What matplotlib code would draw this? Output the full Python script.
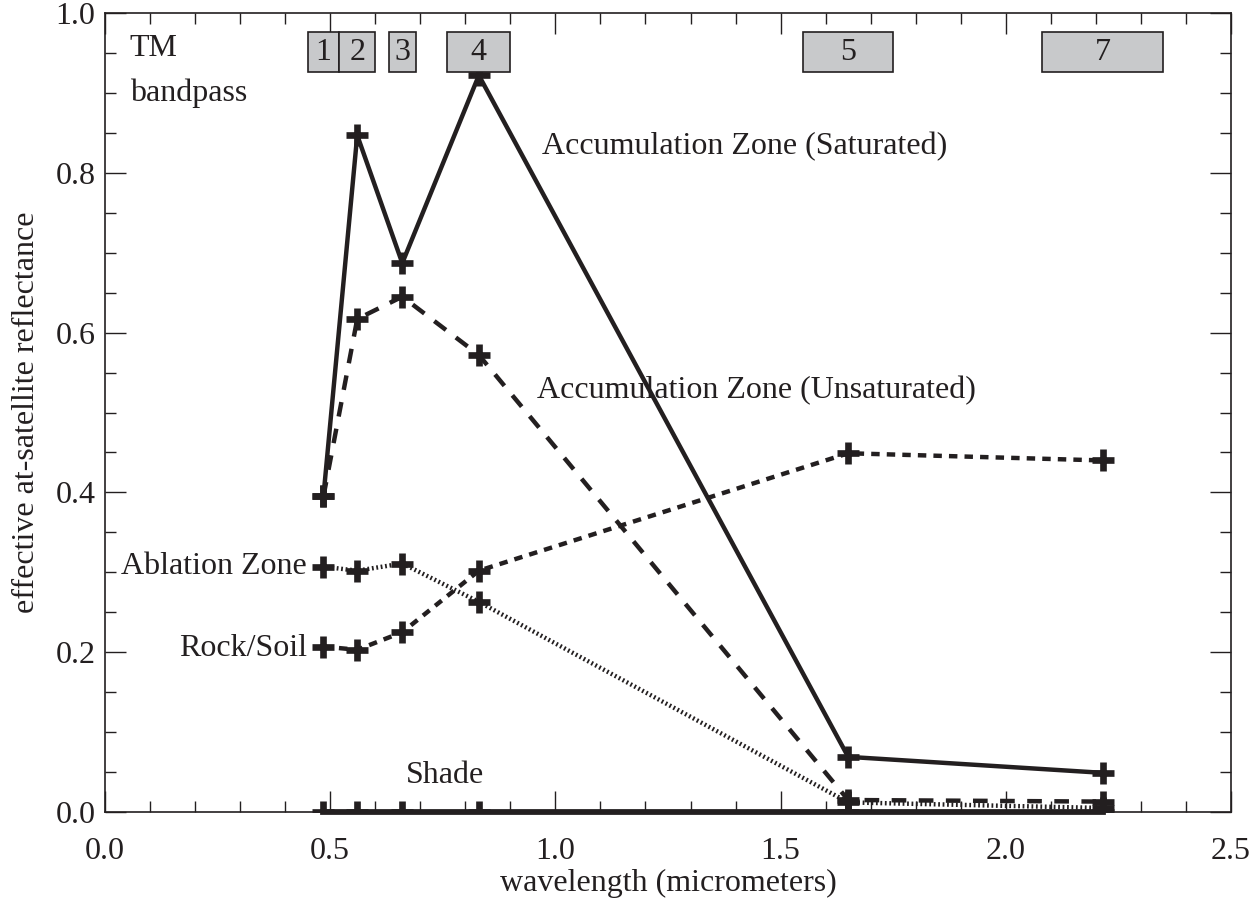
import matplotlib
matplotlib.use("Agg")
import matplotlib.pyplot as plt
from matplotlib.patches import Rectangle
from matplotlib.ticker import MultipleLocator, FormatStrFormatter

plt.rcParams['font.family'] = ['Liberation Serif', 'DejaVu Serif']

wavelength = [0.485, 0.56, 0.66, 0.83, 1.65, 2.215]
acc_saturated = [0.395, 0.847, 0.687, 0.922, 0.069, 0.049]
acc_unsaturated = [0.395, 0.617, 0.645, 0.572, 0.015, 0.013]
rock_soil = [0.207, 0.203, 0.225, 0.302, 0.449, 0.440]
ablation = [0.307, 0.302, 0.311, 0.263, 0.012, 0.005]
shade = [0.0, 0.0, 0.0, 0.0, 0.0, 0.0]

band_names = ['1', '2', '3', '4', '5', '7']
band_lo = [0.45, 0.52, 0.63, 0.76, 1.55, 2.08]
band_hi = [0.52, 0.60, 0.69, 0.90, 1.75, 2.35]
band_bottom = 0.926
band_top = 0.976

fig = plt.figure(figsize=(12.56, 8.99), dpi=100)
ax = fig.add_axes([0.0836, 0.0968, 0.8965, 0.8887])

col = '#231f20'
lw = 3.2
mk = dict(marker='+', markersize=16, markeredgewidth=4.8, color=col, lw=lw)
ax.plot(wavelength, acc_saturated, linestyle='-', **mk)
ax.plot(wavelength, acc_unsaturated, linestyle=(0, (3.3, 2.8)), **mk)
ax.plot(wavelength, rock_soil, linestyle=(0, (1.9, 1.6)), **mk)
ax.plot(wavelength, ablation, linestyle=(0, (0.4, 0.6)), **mk)
ax.plot(wavelength, shade, linestyle='-', color=col, lw=lw * 1.3, clip_on=False)
ax.plot(wavelength, shade, linestyle='none', marker='+', markersize=16,
        markeredgewidth=4.8, color=col)

fs = 23
for name, lo, hi in zip(band_names, band_lo, band_hi):
    ax.add_patch(Rectangle((lo, band_bottom), hi - lo, band_top - band_bottom,
                           facecolor='#c8c9cb', edgecolor=col, lw=1.2, zorder=3))
    ax.text((lo + hi) / 2, (band_bottom + band_top) / 2, name, ha='center', va='center',
            fontsize=fs, color=col, zorder=4)

ax.text(0.055, 0.955, 'TM', fontsize=fs, color=col, va='center', ha='left')
ax.text(0.055, 0.9, 'bandpass', fontsize=fs, color=col, va='center', ha='left')
ax.text(0.97, 0.833, 'Accumulation Zone (Saturated)', fontsize=fs, color=col, va='center', ha='left')
ax.text(0.96, 0.528, 'Accumulation Zone (Unsaturated)', fontsize=fs, color=col, va='center', ha='left')
ax.text(0.448, 0.307, 'Ablation Zone', fontsize=fs, color=col, va='center', ha='right')
ax.text(0.448, 0.205, 'Rock/Soil', fontsize=fs, color=col, va='center', ha='right')
ax.text(0.667, 0.046, 'Shade', fontsize=fs, color=col, va='center', ha='left')

ax.set_xlim(0, 2.5)
ax.set_ylim(0, 1.0)
ax.xaxis.set_major_locator(MultipleLocator(0.5))
ax.xaxis.set_minor_locator(MultipleLocator(0.1))
ax.yaxis.set_major_locator(MultipleLocator(0.2))
ax.yaxis.set_minor_locator(MultipleLocator(0.05))
ax.xaxis.set_major_formatter(FormatStrFormatter('%.1f'))
ax.yaxis.set_major_formatter(FormatStrFormatter('%.1f'))
ax.tick_params(which='both', direction='in', top=True, right=True, colors=col,
               labelsize=fs, width=1.0)
ax.tick_params(which='major', length=15)
ax.tick_params(which='minor', length=8)
ax.tick_params(axis='x', which='major', pad=18)
ax.tick_params(axis='y', which='major', pad=7)
for s in ax.spines.values():
    s.set_linewidth(1.2)
    s.set_color(col)

ax.set_xlabel('wavelength (micrometers)', fontsize=fs, color=col, labelpad=2)
ax.set_ylabel('effective at-satellite reflectance', fontsize=fs, color=col, labelpad=10)

fig.savefig('out.png', dpi=100)
